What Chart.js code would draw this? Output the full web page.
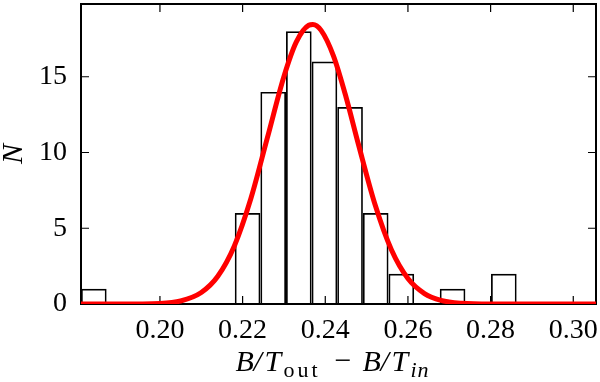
<!DOCTYPE html>
<html>
<head>
<meta charset="utf-8">
<script src="https://cdn.jsdelivr.net/npm/chart.js@4.4.1/dist/chart.umd.min.js"></script>
<style>
  html, body { margin: 0; padding: 0; background: #fff; }
  canvas { display: block; }
</style>
</head>
<body>
<canvas id="hist" width="600" height="382"></canvas>
<script>
// histogram: bin centres and counts
const binCenters = [0.1840, 0.1902, 0.1964, 0.2026, 0.2088, 0.2150, 0.2212, 0.2274, 0.2336,
  0.2398, 0.2460, 0.2522, 0.2584, 0.2646, 0.2708, 0.2770, 0.2832];
const counts = [1, 0, 0, 0, 0, 0, 6, 14, 18, 16, 13, 6, 2, 0, 1, 0, 2];

// red fit curve
const curveX = [0.180, 0.190, 0.200, 0.205, 0.210, 0.214, 0.218, 0.222, 0.226, 0.230, 0.233,
  0.236, 0.237, 0.239, 0.242, 0.245, 0.248, 0.252, 0.256, 0.260, 0.264, 0.268, 0.273, 0.280,
  0.290, 0.306];
const curveY = [0.00, 0.00, 0.04, 0.20, 0.76, 1.83, 3.83, 6.96, 10.98, 15.02, 17.30,
  18.40, 18.45, 18.06, 16.36, 13.68, 10.56, 6.60, 3.58, 1.68, 0.69, 0.24, 0.05, 0.00,
  0.00, 0.00];

const xTicks = [0.20, 0.22, 0.24, 0.26, 0.28, 0.30];
const yTicks = [0, 5, 10, 15];

const serif = "'Liberation Serif', 'DejaVu Serif', serif";

// frame with inward ticks on all four sides + axis titles
const frame = {
  id: "frame",
  beforeDatasetsDraw(chart) {
    const { ctx, chartArea: a, scales } = chart;
    ctx.save();
    ctx.strokeStyle = "#000";
    ctx.lineWidth = 1.2;
    ctx.beginPath();
    xTicks.forEach((v) => {
      const px = scales.x.getPixelForValue(v);
      ctx.moveTo(px, a.bottom);
      ctx.lineTo(px, a.bottom - 8);
      ctx.moveTo(px, a.top);
      ctx.lineTo(px, a.top + 8);
    });
    yTicks.forEach((v) => {
      const py = scales.y.getPixelForValue(v);
      ctx.moveTo(a.left, py);
      ctx.lineTo(a.left + 8, py);
      ctx.moveTo(a.right, py);
      ctx.lineTo(a.right - 8, py);
    });
    ctx.stroke();
    ctx.lineWidth = 2;
    ctx.strokeRect(a.left, a.top, a.right - a.left, a.bottom - a.top);
    ctx.restore();
  },
  afterDraw(chart) {
    const { ctx, chartArea: a } = chart;
    ctx.save();
    ctx.fillStyle = "#000";
    ctx.textBaseline = "alphabetic";
    ctx.textAlign = "left";
    // B/T_out - B/T_in
    const x0 = (a.left + a.right) / 2 - 103;
    const base = 371;
    const parts = [
      { t: "B", f: "italic 30px", dx: 0, dy: 0 },
      { t: "/", f: "italic 30px", dx: 18, dy: 0 },
      { t: "T", f: "italic 30px", dx: 29, dy: 0 },
      { t: "out", f: "22px", dx: 48, dy: 6, sp: "3px" },
      { t: "\u2212", f: "30px", dx: 99, dy: -1 },
      { t: "B", f: "italic 30px", dx: 127, dy: 0 },
      { t: "/", f: "italic 30px", dx: 145, dy: 0 },
      { t: "T", f: "italic 30px", dx: 156, dy: 0 },
      { t: "in", f: "italic 22px", dx: 175, dy: 6, sp: "1px" },
    ];
    parts.forEach((p) => {
      ctx.font = p.f + " " + serif;
      ctx.letterSpacing = p.sp || "0px";
      ctx.fillText(p.t, x0 + p.dx, base + p.dy);
    });
    ctx.letterSpacing = "0px";
    // N
    ctx.translate(14, (a.top + a.bottom) / 2);
    ctx.rotate(-Math.PI / 2);
    ctx.textAlign = "center";
    ctx.textBaseline = "middle";
    ctx.font = "italic 30px " + serif;
    ctx.fillText("N", 0, 0);
    ctx.restore();
  },
};

const tickFont = { family: serif, size: 28 };

new Chart(document.getElementById("hist"), {
  type: "bar",
  data: {
    datasets: [
      {
        type: "line",
        data: curveX.map((x, i) => ({ x, y: curveY[i] })),
        borderColor: "#ff0000",
        borderWidth: 5,
        pointRadius: 0,
        cubicInterpolationMode: "monotone",
        fill: false,
        order: 0,
      },
      {
        type: "bar",
        data: binCenters.map((x, i) => ({ x, y: counts[i] })),
        backgroundColor: "rgba(0,0,0,0)",
        borderColor: "#000",
        borderWidth: 1.7,
        barThickness: "flex",
        barPercentage: 1,
        categoryPercentage: 1,
        inflateAmount: 0,
        order: 1,
      },
    ],
  },
  options: {
    responsive: false,
    animation: false,
    devicePixelRatio: 1,
    layout: { padding: { top: 4, right: 4, left: 0, bottom: 0 } },
    plugins: { legend: { display: false }, tooltip: { enabled: false } },
    scales: {
      x: {
        type: "linear",
        offset: false,
        min: 0.1809,
        max: 0.3055,
        grid: { display: false, drawTicks: false, offset: false },
        border: { display: false },
        ticks: {
          font: tickFont,
          color: "#000",
          padding: 10,
          maxRotation: 0,
          callback: (v) => v.toFixed(2),
        },
        afterBuildTicks: (scale) => {
          scale.ticks = xTicks.map((v) => ({ value: v }));
        },
        afterFit: (scale) => {
          scale.height = 78;
          scale.paddingLeft = 0;
          scale.paddingRight = 0;
        },
      },
      y: {
        min: 0,
        max: 19.8,
        grid: { display: false, drawTicks: false },
        border: { display: false },
        ticks: {
          font: tickFont,
          color: "#000",
          padding: 14,
          callback: (v) => String(v),
        },
        afterBuildTicks: (scale) => {
          scale.ticks = yTicks.map((v) => ({ value: v }));
        },
        afterFit: (scale) => {
          scale.width = 81;
          scale.paddingTop = 0;
          scale.paddingBottom = 0;
        },
      },
    },
  },
  plugins: [frame],
});
</script>
</body>
</html>
